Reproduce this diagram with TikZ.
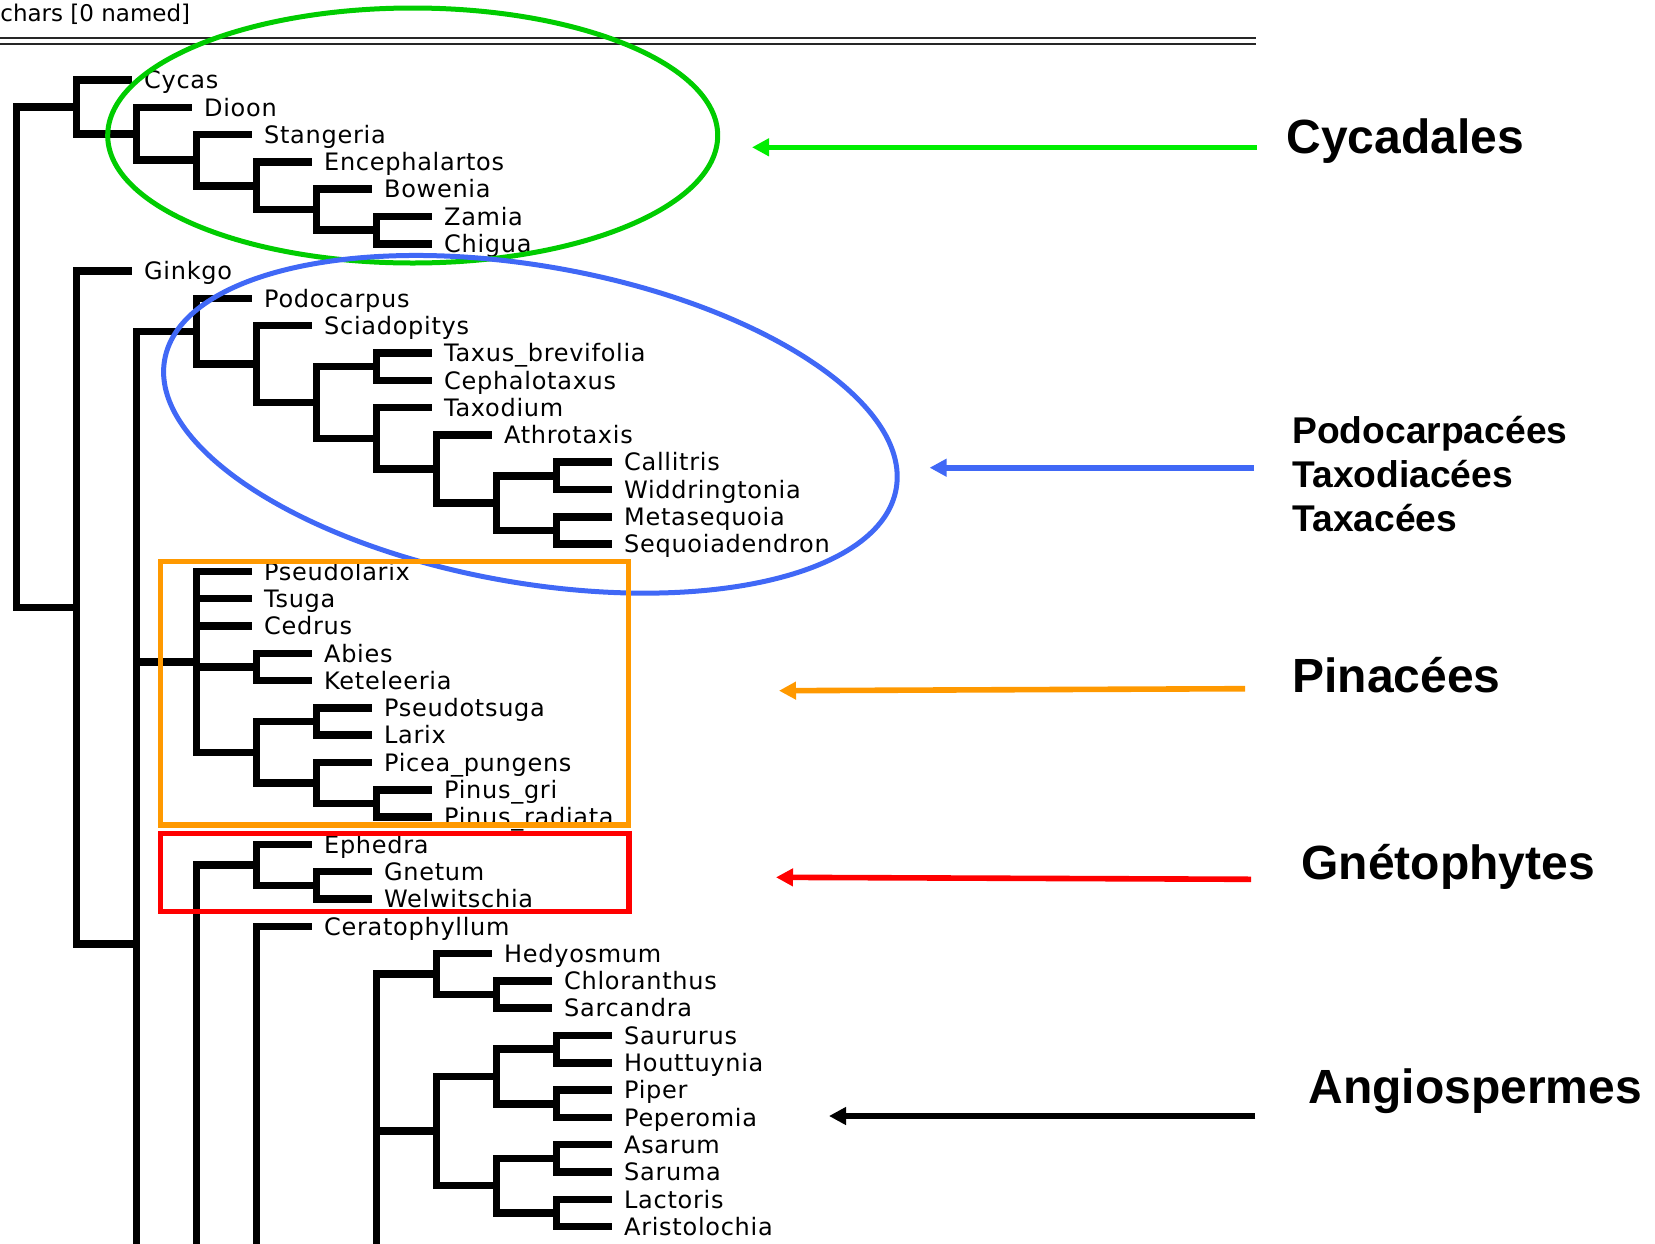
\documentclass[tikz,border=0pt]{standalone}
\usepackage{fontspec}
\setmainfont{DejaVu Sans}
\newfontfamily\hojafont[LetterSpace=3]{DejaVu Sans}
\newfontfamily\grupofont{Liberation Sans}
\usetikzlibrary{arrows.meta,positioning}

\definecolor{verdeelipse}{RGB}{0,204,0}
\definecolor{verdeflecha}{RGB}{0,238,0}
\definecolor{azul}{RGB}{64,104,246}
\definecolor{naranja}{RGB}{255,153,0}
\definecolor{rojo}{RGB}{255,0,0}

\begin{document}
\begin{tikzpicture}[x=0.5pt, y=-0.5pt]
	% Estilos
	\tikzstyle{rama} = [draw, line width=3.75pt, line cap=rect]
	\tikzstyle{hoja} = [anchor=west, inner xsep=8pt, inner ysep=0pt,
		font=\hojafont\fontsize{12pt}{14pt}\selectfont, text height=8.75pt, text depth=0pt]
	\tikzstyle{grupo} = [anchor=west, inner sep=0pt,
		font=\grupofont\bfseries\fontsize{24pt}{28pt}\selectfont, text height=17.2pt, text depth=0pt]
	\tikzstyle{grupochico} = [grupo, font=\grupofont\bfseries\fontsize{18.6pt}{22pt}\selectfont, text height=13.3pt]
	\tikzstyle{flecha} = [draw, line width=2.8pt, -{Triangle[length=8.5pt, width=8.5pt]}]
	\tikzstyle{marco} = [line width=2.75pt]

	\useasboundingbox (0,0) rectangle (1655,1243);
	\clip (0,0) rectangle (1655,1243);

	% Cabecera
	\node [anchor=base west, inner sep=0pt, font=\fontsize{11.5pt}{14pt}\selectfont] (cabecera) at (0,21) {chars [0 named]};
	\draw [line width=1pt, double distance=2pt, black!85] (0,40.5) -- (1256,40.5);

	% Nodos internos
	\coordinate (r) at (16.5,357.2);
	\coordinate (cy1) at (76.5,106.9);
	\coordinate (cy2) at (136.5,133.75);
	\coordinate (cy3) at (196.5,160.2);
	\coordinate (cy4) at (256.5,185.8);
	\coordinate (cy5) at (316.5,209.7);
	\coordinate (cy6) at (376.5,230.15);
	\coordinate (b) at (76.5,607.5);
	\coordinate (c) at (136.5,944);
	\coordinate (po) at (196.5,331.25);
	\coordinate (po2) at (256.5,364.1);
	\coordinate (po3) at (316.5,402.5);
	\coordinate (po4) at (376.5,366.65);
	\coordinate (po5) at (376.5,438.3);
	\coordinate (po6) at (436.5,469);
	\coordinate (po7) at (496.5,503.15);
	\coordinate (po8) at (556.5,475.85);
	\coordinate (po9) at (556.5,530.45);
	\coordinate (pin) at (196.5,661.85);
	\coordinate (pin1) at (256.5,666.95);
	\coordinate (pin2) at (256.5,752.3);
	\coordinate (pin3) at (316.5,721.55);
	\coordinate (pin4) at (316.5,783);
	\coordinate (pin5) at (376.5,803.45);
	\coordinate (d) at (196.5,1400);
	\coordinate (gn) at (256.5,864.9);
	\coordinate (gn2) at (316.5,885.35);
	\coordinate (e) at (256.5,1380);
	\coordinate (e2) at (316.5,1360);
	\coordinate (f) at (376.5,1300);
	\coordinate (ch) at (436.5,974.1);
	\coordinate (ch2) at (496.5,994.55);
	\coordinate (pi) at (436.5,1131.05);
	\coordinate (pi1) at (496.5,1076.45);
	\coordinate (pi1a) at (556.5,1049.15);
	\coordinate (pi1b) at (556.5,1103.75);
	\coordinate (pi2) at (496.5,1185.65);
	\coordinate (pi2a) at (556.5,1158.35);
	\coordinate (pi2b) at (556.5,1212.95);

	% Hojas
	\node [hoja] (cycas) at (127.75,80) {Cycas};
	\node [hoja] (dioon) at (187.75,107.3) {Dioon};
	\node [hoja] (stangeria) at (247.75,134.6) {Stangeria};
	\node [hoja] (encephalartos) at (307.75,161.9) {Encephalartos};
	\node [hoja] (bowenia) at (367.75,189.2) {Bowenia};
	\node [hoja] (zamia) at (427.75,216.5) {Zamia};
	\node [hoja] (chigua) at (427.75,243.8) {Chigua};
	\node [hoja] (ginkgo) at (127.75,271.1) {Ginkgo};
	\node [hoja] (podocarpus) at (247.75,298.4) {Podocarpus};
	\node [hoja] (sciadopitys) at (307.75,325.7) {Sciadopitys};
	\node [hoja] (taxus) at (427.75,353) {Taxus\_brevifolia};
	\node [hoja] (cephalotaxus) at (427.75,380.3) {Cephalotaxus};
	\node [hoja] (taxodium) at (427.75,407.6) {Taxodium};
	\node [hoja] (athrotaxis) at (487.75,434.9) {Athrotaxis};
	\node [hoja] (callitris) at (607.75,462.2) {Callitris};
	\node [hoja] (widdringtonia) at (607.75,489.5) {Widdringtonia};
	\node [hoja] (metasequoia) at (607.75,516.8) {Metasequoia};
	\node [hoja] (sequoiadendron) at (607.75,544.1) {Sequoiadendron};
	\node [hoja] (pseudolarix) at (247.75,571.4) {Pseudolarix};
	\node [hoja] (tsuga) at (247.75,598.7) {Tsuga};
	\node [hoja] (cedrus) at (247.75,626) {Cedrus};
	\node [hoja] (abies) at (307.75,653.3) {Abies};
	\node [hoja] (keteleeria) at (307.75,680.6) {Keteleeria};
	\node [hoja] (pseudotsuga) at (367.75,707.9) {Pseudotsuga};
	\node [hoja] (larix) at (367.75,735.2) {Larix};
	\node [hoja] (picea) at (367.75,762.5) {Picea\_pungens};
	\node [hoja] (pinusgri) at (427.75,789.8) {Pinus\_gri};
	\node [hoja] (pinusrad) at (427.75,817.1) {Pinus\_radiata};
	\node [hoja] (ephedra) at (307.75,844.4) {Ephedra};
	\node [hoja] (gnetum) at (367.75,871.7) {Gnetum};
	\node [hoja] (welwitschia) at (367.75,899) {Welwitschia};
	\node [hoja] (ceratophyllum) at (307.75,926.3) {Ceratophyllum};
	\node [hoja] (hedyosmum) at (487.75,953.6) {Hedyosmum};
	\node [hoja] (chloranthus) at (547.75,980.9) {Chloranthus};
	\node [hoja] (sarcandra) at (547.75,1008.2) {Sarcandra};
	\node [hoja] (saururus) at (607.75,1035.5) {Saururus};
	\node [hoja] (houttuynia) at (607.75,1062.8) {Houttuynia};
	\node [hoja] (piper) at (607.75,1090.1) {Piper};
	\node [hoja] (peperomia) at (607.75,1117.4) {Peperomia};
	\node [hoja] (asarum) at (607.75,1144.7) {Asarum};
	\node [hoja] (saruma) at (607.75,1172) {Saruma};
	\node [hoja] (lactoris) at (607.75,1199.3) {Lactoris};
	\node [hoja] (aristolochia) at (607.75,1226.6) {Aristolochia};

	% Conexiones
	\path [rama] (r) |- (cy1);
	\path [rama] (r) |- (b);
	\path [rama] (cy1) |- (cycas.west);
	\path [rama] (cy1) |- (cy2);
	\path [rama] (cy2) |- (dioon.west);
	\path [rama] (cy2) |- (cy3);
	\path [rama] (cy3) |- (stangeria.west);
	\path [rama] (cy3) |- (cy4);
	\path [rama] (cy4) |- (encephalartos.west);
	\path [rama] (cy4) |- (cy5);
	\path [rama] (cy5) |- (bowenia.west);
	\path [rama] (cy5) |- (cy6);
	\path [rama] (cy6) |- (zamia.west);
	\path [rama] (cy6) |- (chigua.west);
	\path [rama] (b) |- (ginkgo.west);
	\path [rama] (b) |- (c);
	\path [rama] (c) |- (po);
	\path [rama] (c) |- (pin);
	\path [rama] (c) |- (d);
	\path [rama] (po) |- (podocarpus.west);
	\path [rama] (po) |- (po2);
	\path [rama] (po2) |- (sciadopitys.west);
	\path [rama] (po2) |- (po3);
	\path [rama] (po3) |- (po4);
	\path [rama] (po3) |- (po5);
	\path [rama] (po4) |- (taxus.west);
	\path [rama] (po4) |- (cephalotaxus.west);
	\path [rama] (po5) |- (taxodium.west);
	\path [rama] (po5) |- (po6);
	\path [rama] (po6) |- (athrotaxis.west);
	\path [rama] (po6) |- (po7);
	\path [rama] (po7) |- (po8);
	\path [rama] (po7) |- (po9);
	\path [rama] (po8) |- (callitris.west);
	\path [rama] (po8) |- (widdringtonia.west);
	\path [rama] (po9) |- (metasequoia.west);
	\path [rama] (po9) |- (sequoiadendron.west);
	\path [rama] (pin) |- (pseudolarix.west);
	\path [rama] (pin) |- (tsuga.west);
	\path [rama] (pin) |- (cedrus.west);
	\path [rama] (pin) |- (pin1);
	\path [rama] (pin) |- (pin2);
	\path [rama] (pin1) |- (abies.west);
	\path [rama] (pin1) |- (keteleeria.west);
	\path [rama] (pin2) |- (pin3);
	\path [rama] (pin2) |- (pin4);
	\path [rama] (pin3) |- (pseudotsuga.west);
	\path [rama] (pin3) |- (larix.west);
	\path [rama] (pin4) |- (picea.west);
	\path [rama] (pin4) |- (pin5);
	\path [rama] (pin5) |- (pinusgri.west);
	\path [rama] (pin5) |- (pinusrad.west);
	\path [rama] (d) |- (gn);
	\path [rama] (d) |- (e);
	\path [rama] (gn) |- (ephedra.west);
	\path [rama] (gn) |- (gn2);
	\path [rama] (gn2) |- (gnetum.west);
	\path [rama] (gn2) |- (welwitschia.west);
	\path [rama] (e) |- (ceratophyllum.west);
	\path [rama] (e) |- (e2);
	\path [rama] (e2) |- (f);
	\path [rama] (f) |- (ch);
	\path [rama] (f) |- (pi);
	\path [rama] (ch) |- (hedyosmum.west);
	\path [rama] (ch) |- (ch2);
	\path [rama] (ch2) |- (chloranthus.west);
	\path [rama] (ch2) |- (sarcandra.west);
	\path [rama] (pi) |- (pi1);
	\path [rama] (pi) |- (pi2);
	\path [rama] (pi1) |- (pi1a);
	\path [rama] (pi1) |- (pi1b);
	\path [rama] (pi1a) |- (saururus.west);
	\path [rama] (pi1a) |- (houttuynia.west);
	\path [rama] (pi1b) |- (piper.west);
	\path [rama] (pi1b) |- (peperomia.west);
	\path [rama] (pi2) |- (pi2a);
	\path [rama] (pi2) |- (pi2b);
	\path [rama] (pi2a) |- (asarum.west);
	\path [rama] (pi2a) |- (saruma.west);
	\path [rama] (pi2b) |- (lactoris.west);
	\path [rama] (pi2b) |- (aristolochia.west);

	% Grupos marcados
	\draw [verdeelipse, line width=2.5pt] (412.7,135.5) ellipse [x radius=305, y radius=127.5];
	\draw [azul, line width=2.5pt, rotate around={-10:(530.4,424.3)}] (530.4,424.3) ellipse [x radius=371.4, y radius=158.4];
	\draw [naranja, marco] (160.4,561.7) rectangle (628.3,825);
	\draw [rojo, marco] (160.4,833.3) rectangle (629,911.7);

	% Etiquetas
	\node [grupo] (cycadales) at (1286,136.7) {Cycadales};
	\node [grupochico] (podocarpacees) at (1292,430.1) {Podocarpacées};
	\node [grupochico, below=22pt of podocarpacees.west, anchor=west] (taxodiacees) {Taxodiacées};
	\node [grupochico, below=22pt of taxodiacees.west, anchor=west] (taxacees) {Taxacées};
	\node [grupo] (pinacees) at (1292,675) {Pinacées};
	\node [grupo] (gnetophytes) at (1301,862.3) {Gnétophytes};
	\node [grupo] (angiospermes) at (1308,1086) {Angiospermes};

	% Flechas
	\coordinate (colacyc) at (1257,147.3);
	\coordinate (puntacyc) at (752,147.3);
	\coordinate (colapod) at (1254,467.7);
	\coordinate (puntapod) at (929.6,467.7);
	\coordinate (colapin) at (1245,688.7);
	\coordinate (puntapin) at (779,690.7);
	\coordinate (colagne) at (1251,879.3);
	\coordinate (puntagne) at (776,877.3);
	\coordinate (colaang) at (1255.4,1116);
	\coordinate (puntaang) at (829,1116);
	\path [flecha, verdeflecha] (colacyc) -- (puntacyc);
	\path [flecha, azul] (colapod) -- (puntapod);
	\path [flecha, naranja] (colapin) -- (puntapin);
	\path [flecha, rojo] (colagne) -- (puntagne);
	\path [flecha, black] (colaang) -- (puntaang);
\end{tikzpicture}
\end{document}
